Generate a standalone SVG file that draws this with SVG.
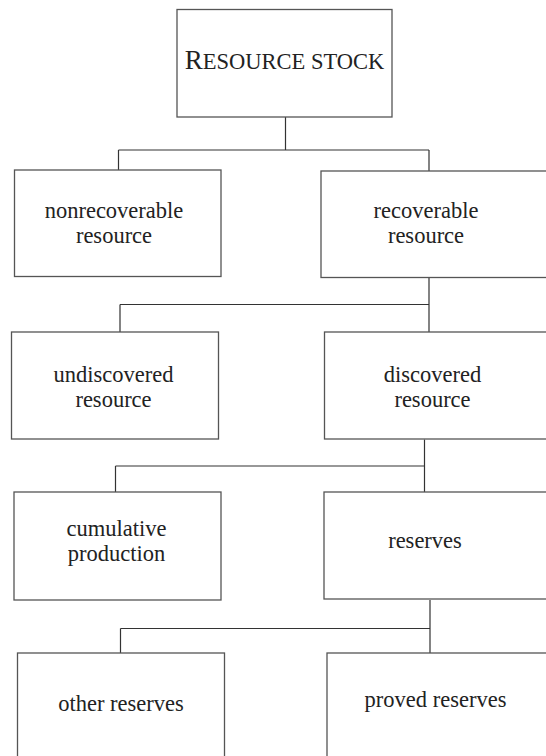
<svg xmlns="http://www.w3.org/2000/svg" width="546" height="756" viewBox="0 0 546 756">
<style>
.box{fill:#fff;stroke:#555;stroke-width:1.3}
.lbl{font-family:"Liberation Serif","Times New Roman",serif;font-size:22.5px;fill:#222;text-anchor:middle}
.con{fill:none;stroke:#333;stroke-width:1.2}
</style>
<rect width="546" height="756" fill="#fff"/>
<g id="connectors">
<path class="con" d="M285.5 117V150M118.5 150H429M118.5 150V170M429 150V171"/>
<path class="con" d="M429 277.5V332M120 304.5H429M120 304.5V332"/>
<path class="con" d="M424.5 439.5V492M115.5 466H424.5M115.5 466V492"/>
<path class="con" d="M430 600V653M120.5 628.5H430M120.5 628.5V653"/>
</g>
<g id="resource-stock">
<rect class="box" x="177" y="9.5" width="215" height="107.5"/>
<text class="lbl" x="284.5" y="68.5" font-size="22"><tspan font-size="27">R</tspan>ESOURCE STOCK</text>
</g>
<g id="nonrecoverable">
<rect class="box" x="14.5" y="170" width="206.5" height="106.5"/>
<text class="lbl" x="114" y="218">nonrecoverable</text>
<text class="lbl" x="114" y="243">resource</text>
</g>
<g id="recoverable">
<rect class="box" x="321" y="171" width="240" height="106.5"/>
<text class="lbl" x="426" y="218">recoverable</text>
<text class="lbl" x="426" y="243">resource</text>
</g>
<g id="undiscovered">
<rect class="box" x="11.5" y="332" width="207" height="107"/>
<text class="lbl" x="113.5" y="381.5">undiscovered</text>
<text class="lbl" x="113.5" y="406.5">resource</text>
</g>
<g id="discovered">
<rect class="box" x="324.5" y="332" width="240" height="107"/>
<text class="lbl" x="432.5" y="381.5">discovered</text>
<text class="lbl" x="432.5" y="406.5">resource</text>
</g>
<g id="cumulative">
<rect class="box" x="14" y="492" width="207" height="108"/>
<text class="lbl" x="116.5" y="536">cumulative</text>
<text class="lbl" x="116.5" y="561">production</text>
</g>
<g id="reserves">
<rect class="box" x="324" y="492" width="240" height="107"/>
<text class="lbl" x="425" y="548">reserves</text>
</g>
<g id="other-reserves">
<rect class="box" x="17.5" y="653" width="207" height="130"/>
<text class="lbl" x="121" y="710.5">other reserves</text>
</g>
<g id="proved-reserves">
<rect class="box" x="327" y="653" width="240" height="130"/>
<text class="lbl" x="435.5" y="706.5">proved reserves</text>
</g>
</svg>
